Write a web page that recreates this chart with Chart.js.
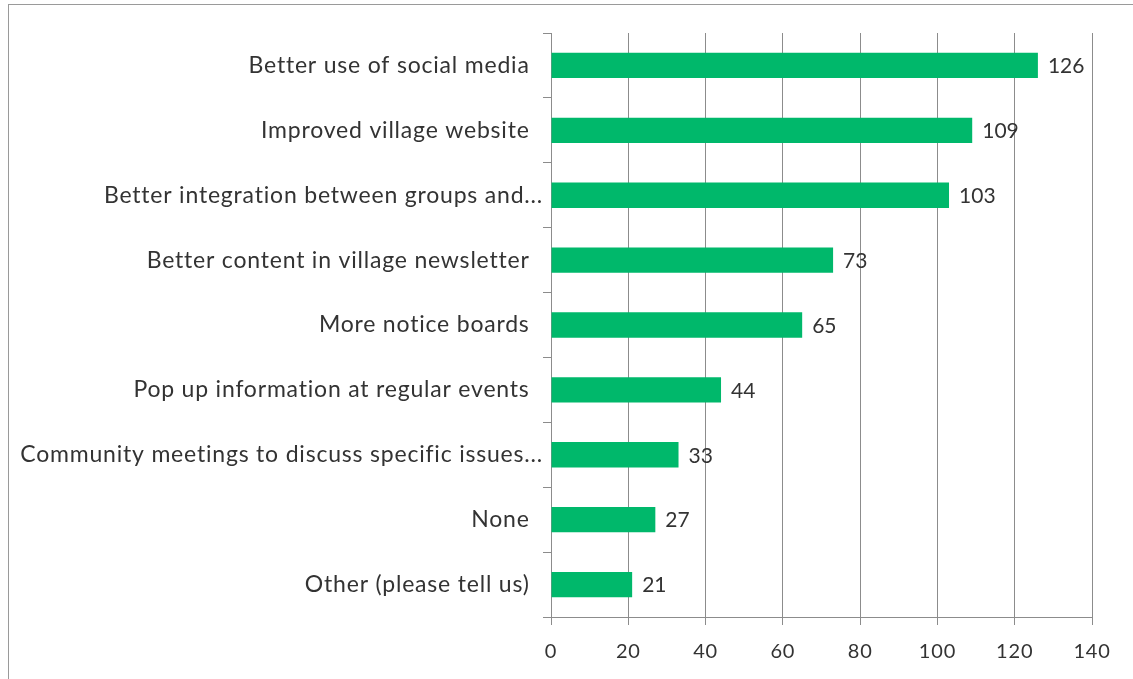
<!DOCTYPE html>
<html>
<head>
<meta charset="utf-8">
<script src="https://cdn.jsdelivr.net/npm/chart.js@4/dist/chart.umd.min.js"></script>
<style>
  html, body { margin: 0; padding: 0; background: #ffffff; }
  #wrap { width: 1133px; height: 679px; position: relative; }
</style>
</head>
<body>
<div id="wrap"><canvas id="c"></canvas></div>
<script>
// Survey answers: how could communication in the village be improved?
const categories = [
  'Better use of social media  ',
  'Improved village website  ',
  'Better integration between groups and...',
  'Better content in village newsletter  ',
  'More notice boards  ',
  'Pop up information at regular events  ',
  'Community meetings to discuss specific issues...',
  'None  ',
  'Other (please tell us)  '
];
const responses = [126, 109, 103, 73, 65, 44, 33, 27, 21];
const xTicks = [0, 20, 40, 60, 80, 100, 120, 140];

const FONT = 'Lato, "Open Sans", sans-serif';
const TEXT = '#333333';
const LINE = '#8c8c8c';
const BAR = '#00b86b';

// Thin frame around the whole chart area; also sets the slightly open
// letter spacing used by the axis labels
const framePlugin = {
  id: 'frame',
  beforeDraw(chart) {
    const ctx = chart.ctx;
    ctx.save();
    ctx.strokeStyle = '#9a9a9a';
    ctx.lineWidth = 1;
    ctx.strokeRect(8.5, 4.5, chart.width + 20, chart.height + 20);
    ctx.restore();
    ctx.letterSpacing = '0.8px';
  }
};

// Value printed just past the end of each bar
const valueLabels = {
  id: 'valueLabels',
  afterDatasetsDraw(chart) {
    const ctx = chart.ctx;
    const meta = chart.getDatasetMeta(0);
    ctx.save();
    ctx.letterSpacing = '0px';
    ctx.font = '21px ' + FONT;
    ctx.fillStyle = TEXT;
    ctx.textAlign = 'left';
    ctx.textBaseline = 'middle';
    meta.data.forEach((bar, i) => {
      ctx.fillText(String(chart.data.datasets[0].data[i]), bar.x + 10, bar.y + 1);
    });
    ctx.restore();
  }
};

new Chart(document.getElementById('c'), {
  type: 'bar',
  data: {
    labels: categories,
    datasets: [{
      data: responses,
      backgroundColor: BAR,
      borderWidth: 0,
      categoryPercentage: 1.0,
      barPercentage: 0.39
    }]
  },
  options: {
    indexAxis: 'y',
    responsive: true,
    maintainAspectRatio: false,
    animation: false,
    layout: { padding: { top: 33, right: 41, left: 0, bottom: 0 } },
    plugins: {
      legend: { display: false },
      tooltip: { enabled: false }
    },
    scales: {
      x: {
        type: 'linear',
        min: xTicks[0],
        max: xTicks[xTicks.length - 1],
        afterBuildTicks(scale) { scale.ticks = xTicks.map(v => ({ value: v })); },
        afterFit(scale) { scale.height = 62; },
        grid: { color: LINE, lineWidth: 1, tickLength: 8, drawTicks: true },
        border: { display: true, color: LINE, width: 1 },
        ticks: { font: { family: FONT, size: 20 }, color: TEXT, padding: 15 }
      },
      y: {
        type: 'category',
        afterFit(scale) { scale.width = 551; },
        grid: { offset: true, drawOnChartArea: false, color: LINE, tickLength: 8 },
        border: { display: true, color: LINE, width: 1 },
        ticks: { font: { family: FONT, size: 23 }, color: TEXT, padding: 0, autoSkip: false }
      }
    }
  },
  plugins: [framePlugin, valueLabels]
});
</script>
</body>
</html>
